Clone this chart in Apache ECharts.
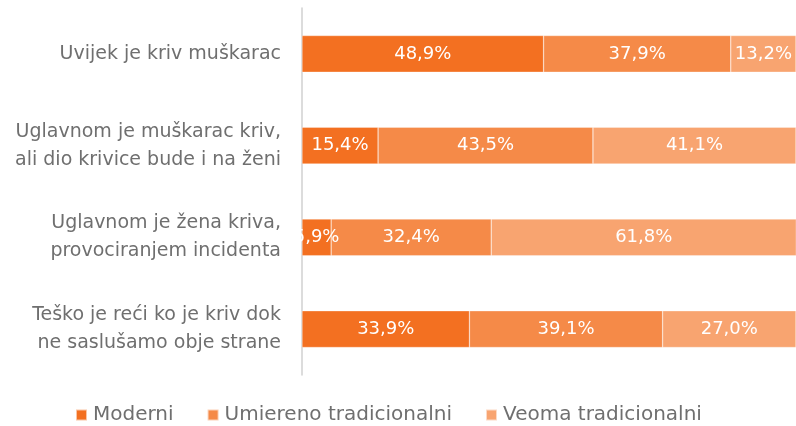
<!DOCTYPE html>
<html>
<head>
<meta charset="utf-8">
<script src="https://cdn.jsdelivr.net/npm/echarts@6/dist/echarts.min.js"></script>
<style>
  html, body { margin: 0; padding: 0; background: #fff; }
  #chart { width: 796px; height: 426px; }
</style>
</head>
<body>
<div id="chart"></div>
<script>
var categories = [
  'Uvijek je kriv muškarac',
  'Uglavnom je muškarac kriv,\nali dio krivice bude i na ženi',
  'Uglavnom je žena kriva,\nprovociranjem incidenta',
  'Teško je reći ko je kriv dok\nne saslušamo obje strane'
];
var moderni = [48.9, 15.4, 5.9, 33.9];
var umiereno = [37.9, 43.5, 32.4, 39.1];
var veoma = [13.2, 41.1, 61.8, 27.0];
var seriesNames = ['Moderni', 'Umiereno tradicionalni', 'Veoma tradicionalni'];
var colors = ['#f37021', '#f58a48', '#f8a470'];
var font = 'DejaVu Sans';

var myChart = echarts.init(document.getElementById('chart'));

function makeSeries(name, data, color) {
  return {
    name: name,
    type: 'bar',
    stack: 'total',
    barCategoryGap: '60%',
    data: data,
    itemStyle: {
      color: color,
      borderColor: 'rgba(255,255,255,0.6)',
      borderWidth: 0.5
    },
    label: {
      show: true,
      position: 'inside',
      color: '#fff',
      fontSize: 18,
      fontFamily: font,
      formatter: function (p) {
        return p.value.toFixed(1).replace('.', ',') + '%'
      }
    }
  }
}

var option = {
  animation: false,
  color: colors,
  legend: {
    data: seriesNames,
    bottom: -4,
    left: 70,
    itemWidth: 11,
    itemHeight: 11,
    itemGap: 33,
    icon: 'rect',
    textStyle: {
      color: '#6f6f6f',
      fontSize: 20,
      fontFamily: font,
      padding: [0, 0, 0, 1]
    }
  },
  grid: {
    left: 302,
    right: 0,
    top: 8,
    bottom: 51,
    containLabel: false
  },
  xAxis: {
    type: 'value',
    min: 0,
    max: 100,
    show: false
  },
  yAxis: {
    type: 'category',
    inverse: true,
    data: categories,
    axisLine: { lineStyle: { color: '#d0d0d0', width: 1.5 } },
    axisTick: { show: false },
    axisLabel: {
      color: '#6f6f6f',
      fontSize: 19,
      fontFamily: font,
      lineHeight: 28,
      margin: 21,
      align: 'right'
    }
  },
  series: [
    makeSeries(seriesNames[0], moderni, colors[0]),
    makeSeries(seriesNames[1], umiereno, colors[1]),
    makeSeries(seriesNames[2], veoma, colors[2])
  ]
};

myChart.setOption(option);
</script>
</body>
</html>
